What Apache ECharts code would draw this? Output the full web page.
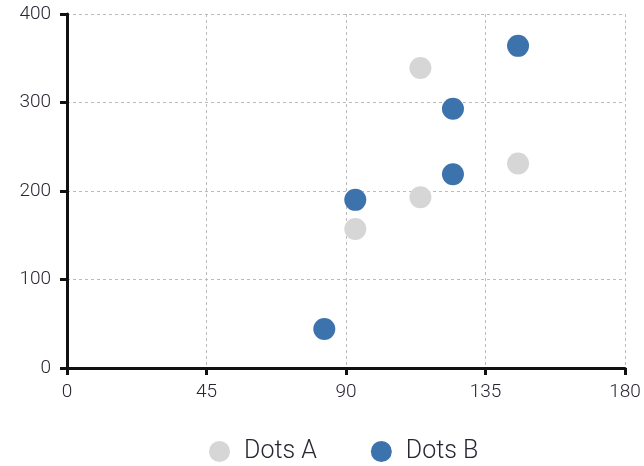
<!DOCTYPE html>
<html>
<head>
<meta charset="utf-8">
<script src="https://cdn.jsdelivr.net/npm/echarts@6/dist/echarts.min.js"></script>
<style>
  html, body { margin: 0; padding: 0; background: #fff; }
  #chart { width: 644px; height: 466px; }
</style>
</head>
<body>
<div id="chart"></div>
<script>
  // values
  const seriesNames = ['Dots A', 'Dots B']
  const dotsA = [[93, 157], [114, 339], [114, 193], [145.5, 231]]
  const dotsB = [[83, 44], [93, 190], [124.5, 293], [124.5, 219], [145.5, 364]]
  const xTicks = [0, 45, 90, 135, 180]
  const yTicks = [0, 100, 200, 300, 400]

  const chart = echarts.init(document.getElementById('chart'))
  const font = 'Roboto'
  const textColor = '#2a2433'
  const axisCommon = {
    axisLine: { show: true, onZero: false, lineStyle: { color: '#111', width: 3 } },
    axisTick: { show: true, length: 7, lineStyle: { color: '#111', width: 3 } },
    splitLine: { show: true, lineStyle: { color: '#bbb', type: [3, 3], width: 1 } },
    axisLabel: { color: textColor, fontFamily: font, fontWeight: 300, fontSize: 19 }
  }

  chart.setOption({
    animation: false,
    grid: { left: 67, right: 19, top: 14, bottom: 98 },
    color: ['#d6d6d6', '#3d73ad'],
    legend: {
      bottom: -3,
      left: 204,
      icon: 'circle',
      itemWidth: 21,
      itemHeight: 21,
      itemGap: 54,
      textStyle: {
        color: textColor, fontFamily: font, fontWeight: 300, fontSize: 25,
        padding: [0, 0, 0, 9]
      },
      data: seriesNames
    },
    xAxis: Object.assign({}, axisCommon, {
      type: 'value',
      min: xTicks[0],
      max: xTicks[xTicks.length - 1],
      interval: 45,
      axisLabel: Object.assign({}, axisCommon.axisLabel, { margin: 15 })
    }),
    yAxis: Object.assign({}, axisCommon, {
      type: 'value',
      min: yTicks[0],
      max: yTicks[yTicks.length - 1],
      interval: 100,
      axisLabel: Object.assign({}, axisCommon.axisLabel, { margin: 16 })
    }),
    series: [
      { name: seriesNames[0], type: 'scatter', symbolSize: 22, itemStyle: { opacity: 1 }, data: dotsA },
      { name: seriesNames[1], type: 'scatter', symbolSize: 22, itemStyle: { opacity: 1 }, data: dotsB }
    ]
  })
</script>
</body>
</html>
